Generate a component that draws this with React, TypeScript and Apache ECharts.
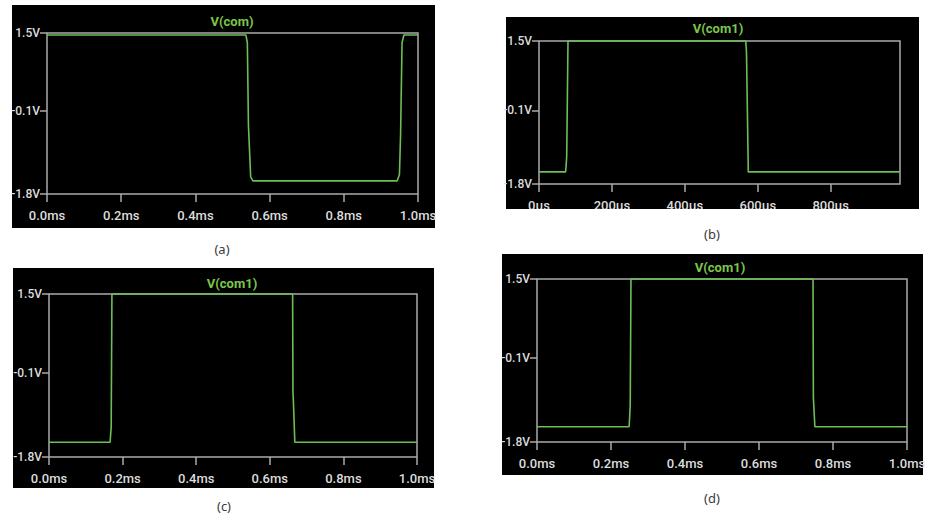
import React, { useEffect, useRef } from "react";
import * as echarts from "echarts";

// ---- data ----
const titles = ["V(com)", "V(com1)", "V(com1)", "V(com1)"];
const captions = ["(a)", "(b)", "(c)", "(d)"];

const yTicks = [-1.8, -0.1, 1.5];
const msTicks = [0, 0.2, 0.4, 0.6, 0.8, 1.0];
const usTicks = [0, 200, 400, 600, 800];

// (a) time in ms, volts
const aTime = [0, 0.536, 0.54, 0.543, 0.549, 0.555, 0.944, 0.95, 0.953, 0.957, 0.962, 1.0];
const aVolt = [1.46, 1.46, 1.3, -0.4, -1.45, -1.53, -1.53, -1.4, -0.6, 1.3, 1.46, 1.46];

// (b) time in µs, volts
const bTime = [0, 73, 75, 76, 79.5, 567, 569, 574, 990];
const bVolt = [-1.52, -1.52, -1.3, -1.15, 1.5, 1.5, 1.25, -1.52, -1.52];

// (c) time in ms, volts
const cTime = [0, 0.166, 0.168, 0.169, 0.171, 0.662, 0.663, 0.664, 0.668, 1.0];
const cVolt = [-1.5, -1.5, -1.3, -1.2, 1.5, 1.5, -0.5, -0.65, -1.5, -1.5];

// (d) time in ms, volts
const dTime = [0, 0.249, 0.251, 0.252, 0.254, 0.746, 0.747, 0.748, 0.751, 1.0];
const dVolt = [-1.49, -1.49, -1.2, -1.05, 1.5, 1.5, -0.9, -1.05, -1.49, -1.49];

const xMaxB = 990;

const times = [aTime, bTime, cTime, dTime];
const volts = [aVolt, bVolt, cVolt, dVolt];

// ---- layout / style ----
const grids = [
  { left: 47, top: 33, width: 371, height: 161 },
  { left: 539, top: 41, width: 361, height: 143 },
  { left: 49, top: 294, width: 368, height: 163 },
  { left: 537, top: 279, width: 370, height: 163 },
];
const boxes = [
  { x: 12, y: 5, w: 423, h: 223 },
  { x: 506, y: 17, w: 413, h: 192 },
  { x: 13, y: 268, w: 421, h: 220 },
  { x: 502, y: 254, w: 421, h: 221 },
];
const titlePos = [
  [232, 21],
  [718, 28],
  [232, 283],
  [720, 267],
];
const captionPos = [
  [222, 249],
  [712, 234],
  [224, 506],
  [712, 498],
];

const FONT = "Roboto, 'Liberation Sans', sans-serif";
const GREY = "#aaaaaa";
const LABEL = "#dcdcdc";
const GREEN = "#6cbf55";

export default function App() {
  const ref = useRef<HTMLDivElement>(null);
  useEffect(() => {
    if (!ref.current) return;
    const chart = echarts.init(ref.current, null, { renderer: "svg" });

    const xAxis = grids.map((_, i) => ({
      type: "value",
      gridIndex: i,
      min: 0,
      max: i === 1 ? xMaxB : 1.0,
      axisLine: { show: false, onZero: false },
      axisTick: {
        show: true,
        length: 8,
        inside: false,
        customValues: i === 1 ? usTicks : msTicks,
        lineStyle: { color: GREY, width: 1.5 },
      },
      axisLabel: {
        customValues: i === 1 ? usTicks : msTicks,
        margin: 15,
        color: LABEL,
        fontFamily: FONT,
        fontWeight: 500,
        fontSize: 13,
        formatter: (v: number) => (i === 1 ? `${Math.round(v)}µs` : `${v.toFixed(1)}ms`),
      },
      splitLine: { show: false },
    }));

    const yAxis = grids.map((_, i) => ({
      type: "value",
      gridIndex: i,
      min: -1.8,
      max: 1.5,
      axisLine: { show: false, onZero: false },
      axisTick: {
        show: true,
        length: 7,
        customValues: yTicks,
        lineStyle: { color: GREY, width: 1.5 },
      },
      axisLabel: {
        customValues: yTicks,
        margin: 7,
        color: LABEL,
        fontFamily: FONT,
        fontWeight: 500,
        fontSize: 12,
        formatter: (v: number) => `${v.toFixed(1)}V`,
      },
      splitLine: { show: false },
    }));

    const series = grids.map((_, i) => ({
      type: "line",
      xAxisIndex: i,
      yAxisIndex: i,
      data: times[i].map((t, k) => [t, volts[i][k]]),
      showSymbol: false,
      symbol: "none",
      z: 5,
      clip: false,
      lineStyle: { color: GREEN, width: 1.6 },
    }));

    const elements: any[] = [];
    boxes.forEach((b) => {
      elements.push({
        type: "rect",
        z: -100,
        shape: { x: b.x, y: b.y, width: b.w, height: b.h },
        style: { fill: "#000000" },
        silent: true,
      });
    });
    // clip the bottom of panel (b)'s tick labels, like the reference
    elements.push({
      type: "rect",
      z: 100,
      shape: { x: 500, y: 209, width: 430, height: 14 },
      style: { fill: "#ffffff" },
      silent: true,
    });
    titles.forEach((t, i) => {
      elements.push({
        type: "text",
        z: 50,
        x: titlePos[i][0],
        y: titlePos[i][1],
        style: {
          text: t,
          fill: "#7cc54a",
          font: `bold 13px ${FONT}`,
          align: "center",
          verticalAlign: "middle",
        },
      });
    });
    captions.forEach((c, i) => {
      elements.push({
        type: "text",
        z: 50,
        x: captionPos[i][0],
        y: captionPos[i][1],
        style: {
          text: c,
          fill: "#3a3a3a",
          font: "13px 'Noto Sans', 'Open Sans', sans-serif",
          align: "center",
          verticalAlign: "middle",
        },
      });
    });

    chart.setOption({
      animation: false,
      backgroundColor: "#ffffff",
      grid: grids.map((g) => ({
        ...g,
        show: true,
        borderColor: GREY,
        borderWidth: 1.5,
        backgroundColor: "transparent",
        containLabel: false,
      })),
      xAxis,
      yAxis,
      series,
      graphic: { elements },
    });
    return () => chart.dispose();
  }, []);

  return (
    <div
      ref={ref}
      style={{ position: "fixed", left: 0, top: 0, width: 947, height: 515 }}
    />
  );
}
